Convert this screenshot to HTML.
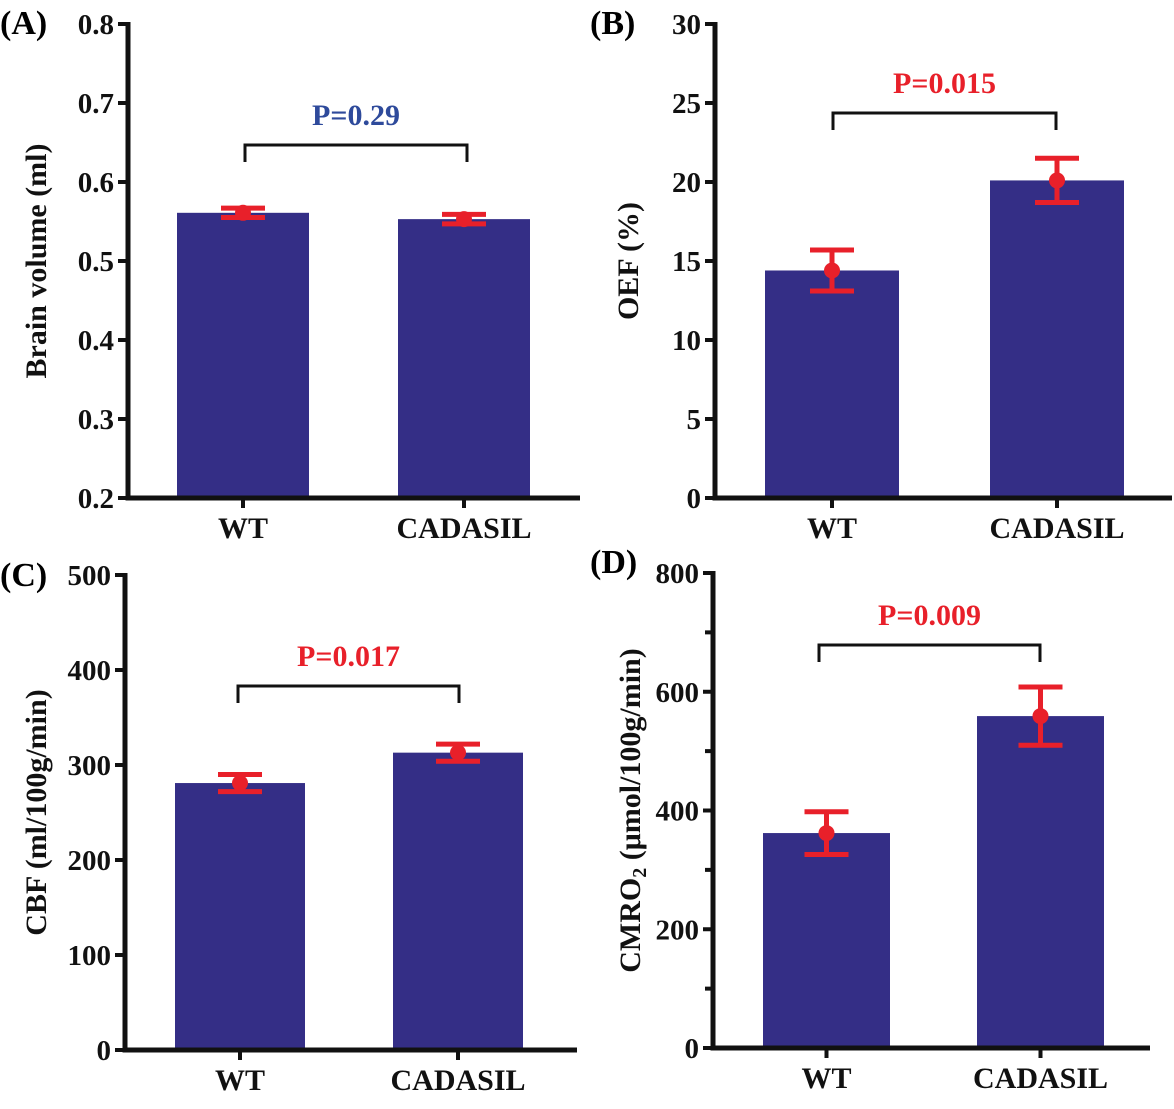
<!DOCTYPE html>
<html><head><meta charset="utf-8"><style>
body{margin:0;background:#fff}
svg{display:block}
text{font-family:"Liberation Serif",serif;font-weight:bold}
</style></head><body>
<svg id="c" width="1174" height="1109" viewBox="0 0 1174 1109"></svg>
<script>
const categories=["WT","CADASIL"];
const brainVol=[0.561,0.553], brainErr=[0.006,0.006];
const oefVals=[14.4,20.1], oefErr=[1.3,1.4];
const cbfVals=[281,313], cbfErr=[9,9];
const cmroVals=[362,559], cmroErr=[36,49];
const pTexts=["P=0.29","P=0.015","P=0.017","P=0.009"];
const ticksA=[0.2,0.3,0.4,0.5,0.6,0.7,0.8];
const ticksB=[0,5,10,15,20,25,30];
const ticksC=[0,100,200,300,400,500];
const ticksD=[0,200,400,600,800];
const panels=[
 {id:"a",label:"(A)",lx:0,ly:34,ax:128,y0:498,y1:24,ymin:0.2,ymax:0.8,xend:580,ticks:ticksA,fmt:v=>v.toFixed(1),vals:brainVol,err:brainErr,bx:[177,398],bw:132,br:145,bl:[245,467],pc:"#2e4a9b",title:"Brain volume (ml)",tx:46,minor:false},
 {id:"b",label:"(B)",lx:590,ly:34,ax:715,y0:498,y1:24,ymin:0,ymax:30,xend:1172,ticks:ticksB,fmt:v=>v,vals:oefVals,err:oefErr,bx:[765,990],bw:134,br:113,bl:[833,1056],pc:"#e8202a",title:"OEF (%)",tx:638,minor:false},
 {id:"c",label:"(C)",lx:0,ly:586,ax:125,y0:1050,y1:575,ymin:0,ymax:500,xend:577,ticks:ticksC,fmt:v=>v,vals:cbfVals,err:cbfErr,bx:[175,393],bw:130,br:686,bl:[238,459],pc:"#e8202a",title:"CBF (ml/100g/min)",tx:46,minor:false},
 {id:"d",label:"(D)",lx:590,ly:573,ax:713,y0:1048,y1:573,ymin:0,ymax:800,xend:1150,ticks:ticksD,fmt:v=>v,vals:cmroVals,err:cmroErr,bx:[763,977],bw:127,br:645,bl:[819,1040],pc:"#e8202a",title:"CMRO",tx:640,minor:true}
];
const svg=document.getElementById('c');const NS="http://www.w3.org/2000/svg";
function mk(t,a,p,txt){const e=document.createElementNS(NS,t);for(const k in a)e.setAttribute(k,a[k]);if(txt!==undefined)e.textContent=txt;(p||svg).appendChild(e);return e;}
panels.forEach((P,pi)=>{
 const g=mk('g',{});
 
 
 const y=v=>P.y0-(v-P.ymin)/(P.ymax-P.ymin)*(P.y0-P.y1);
 const lab=mk('text',{x:P.lx,y:P.ly,'font-size':34},g,P.label);
 
 
 P.vals.forEach((v,i)=>{
  const b=mk('rect',{x:P.bx[i],y:y(v),width:P.bw,height:P.y0-y(v),fill:'#342e86'},g);
  
  
  const cx=P.bx[i]+P.bw/2, yt=y(v+P.err[i]), yb=y(v-P.err[i]);
  const eg=mk('g',{stroke:'#e8202a','stroke-width':5,fill:'none'},g);
  
  
  mk('line',{x1:cx,x2:cx,y1:yt,y2:yb},eg);
  mk('line',{x1:cx-22,x2:cx+22,y1:yt,y2:yt},eg);
  mk('line',{x1:cx-22,x2:cx+22,y1:yb,y2:yb},eg);
  const d=mk('circle',{cx:cx,cy:y(v),r:8,fill:'#e8202a'},g);
  
  
  mk('line',{x1:cx,x2:cx,y1:P.y0,y2:P.y0+10,stroke:'#111','stroke-width':4},g);
  const cl=mk('text',{x:cx,y:P.y0+40,'font-size':30,'text-anchor':'middle',fill:'#111'},g,categories[i]);
  
  
 });
 const ax=mk('path',{d:`M${P.ax} ${P.y1-2}V${P.y0}H${P.xend}`,stroke:'#111','stroke-width':5,fill:'none'},g);
 
 
 P.ticks.forEach(t=>{
  mk('line',{x1:P.ax-10,x2:P.ax,y1:y(t),y2:y(t),stroke:'#111','stroke-width':4},g);
  const tl=mk('text',{x:P.ax-14,y:y(t)+10,'font-size':29,'text-anchor':'end',fill:'#111'},g,P.fmt(t));
  
  
 });
 if(P.minor){for(let i=0;i<P.ticks.length-1;i++){const m=(P.ticks[i]+P.ticks[i+1])/2;mk('line',{x1:P.ax-8,x2:P.ax,y1:y(m),y2:y(m),stroke:'#111','stroke-width':4},g);}}
 const br=mk('path',{d:`M${P.bl[0]} ${P.br+17}V${P.br}H${P.bl[1]}V${P.br+17}`,stroke:'#111','stroke-width':3,fill:'none'},g);
 
 
 const pt=mk('text',{x:(P.bl[0]+P.bl[1])/2,y:P.br-20,'font-size':30,'text-anchor':'middle',fill:P.pc},g,pTexts[pi]);
 
 
 const cy=(P.y0+P.y1)/2;
 const tt=mk('text',{x:P.tx,y:cy,'font-size':30,'text-anchor':'middle',fill:'#111',transform:`rotate(-90 ${P.tx} ${cy})`},g,P.title);
 
 
 if(P.id==='d'){mk('tspan',{'font-size':20,dy:6},tt,'2');mk('tspan',{dy:-6},tt,' (μmol/100g/min)');}
});
</script>
</body></html>
